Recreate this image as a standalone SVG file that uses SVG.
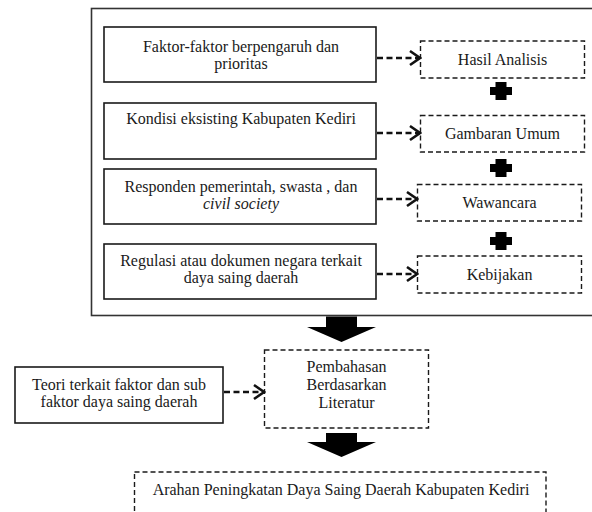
<svg xmlns="http://www.w3.org/2000/svg" width="592" height="512" viewBox="0 0 592 512">
<style>
.solid{fill:#fff;stroke:#1a1a1a;stroke-width:1.6}
.dash{fill:#fff;stroke:#1a1a1a;stroke-width:1.4;stroke-dasharray:5,3}
.outer{fill:none;stroke:#333;stroke-width:1.6}
.conn{stroke:#111;stroke-width:2.3;stroke-dasharray:6,3.5;fill:none}
.block{fill:#000}
</style>
<defs>
<marker id="chev" markerUnits="userSpaceOnUse" markerWidth="14" markerHeight="18" viewBox="0 0 14 18" refX="12" refY="9" orient="auto">
<path d="M2,2 L12,9 L2,16" fill="none" stroke="#111" stroke-width="2.6"/>
</marker>
<path id="plus" d="M-5.5,-9 H5.5 V-4 H11 V4 H5.5 V9 H-5.5 V4 H-11 V-4 H-5.5 Z" fill="#000"/>
</defs>
<g id="outer-frame">
<rect class="outer" x="91.5" y="8.5" width="520" height="307"/>
</g>
<g font-family="Liberation Serif, Tinos, Times New Roman, Noto Serif, DejaVu Serif, serif" font-size="16" fill="#1a1a1a" text-anchor="middle">
<g id="node-faktor">
<rect class="solid" x="104" y="27" width="272" height="55"/>
<text x="241" y="52">Faktor-faktor berpengaruh dan</text>
<text x="241" y="69">prioritas</text>
</g>
<g id="node-kondisi">
<rect class="solid" x="104" y="103" width="272" height="56"/>
<text x="241" y="124">Kondisi eksisting Kabupaten Kediri</text>
</g>
<g id="node-responden">
<rect class="solid" x="104" y="169" width="272" height="55"/>
<text x="241" y="192">Responden pemerintah, swasta , dan</text>
<text x="241" y="209" font-style="italic">civil society</text>
</g>
<g id="node-regulasi">
<rect class="solid" x="104" y="244" width="272" height="55"/>
<text x="241" y="266">Regulasi atau dokumen negara terkait</text>
<text x="241" y="283">daya saing daerah</text>
</g>

<g id="node-hasil">
<rect class="dash" x="420.5" y="41" width="164" height="37"/>
<text x="502.5" y="65">Hasil Analisis</text>
</g>
<g id="node-gambaran">
<rect class="dash" x="420.5" y="115.5" width="164" height="36.5"/>
<text x="502.5" y="139">Gambaran Umum</text>
</g>
<g id="node-wawancara">
<rect class="dash" x="417.5" y="184.5" width="164" height="36.5"/>
<text x="499.5" y="208">Wawancara</text>
</g>
<g id="node-kebijakan">
<rect class="dash" x="417.5" y="256" width="164" height="37"/>
<text x="499.5" y="280">Kebijakan</text>
</g>

<g id="plus-signs">
<use href="#plus" x="501" y="91"/>
<use href="#plus" x="501" y="168"/>
<use href="#plus" x="501" y="241"/>
</g>

<g id="node-teori">
<rect class="solid" x="15" y="367" width="208" height="56"/>
<text x="119" y="390">Teori terkait faktor dan sub</text>
<text x="119" y="407">faktor daya saing daerah</text>
</g>
<g id="node-pembahasan">
<rect class="dash" x="264.5" y="350" width="164" height="78"/>
<text x="346.5" y="372">Pembahasan</text>
<text x="346.5" y="390">Berdasarkan</text>
<text x="346.5" y="408">Literatur</text>
</g>
<g id="node-arahan">
<rect class="dash" x="134.5" y="472" width="411.5" height="60"/>
<text x="341" y="495">Arahan Peningkatan Daya Saing Daerah Kabupaten Kediri</text>
</g>
</g>
<g id="connectors">
<line class="conn" x1="377" y1="58" x2="420" y2="58" marker-end="url(#chev)"/>
<line class="conn" x1="377" y1="133" x2="420" y2="133" marker-end="url(#chev)"/>
<line class="conn" x1="377" y1="199" x2="417" y2="199" marker-end="url(#chev)"/>
<line class="conn" x1="377" y1="274" x2="417" y2="274" marker-end="url(#chev)"/>
<line class="conn" x1="224" y1="392" x2="264" y2="392" marker-end="url(#chev)"/>
<polygon class="block" points="326,316.5 357,316.5 357,327 376,327 341.5,342 307,327 326,327"/>
<polygon class="block" points="326,433 357,433 357,442 376,442 341.5,457 307,442 326,442"/>
</g>
</svg>
